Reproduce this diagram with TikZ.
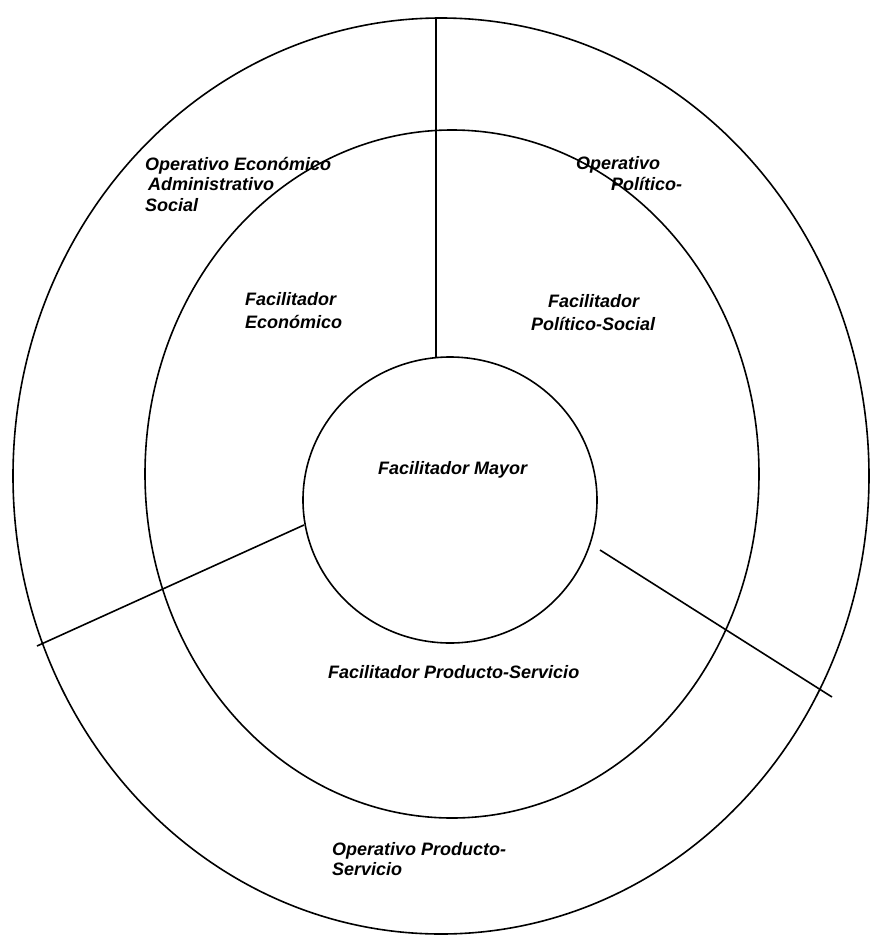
\documentclass[tikz,border=0pt]{standalone}
\usepackage{fontspec}
\setmainfont{Liberation Sans}
\tikzset{
  etiqueta/.style={anchor=base west, inner sep=0pt, font=\fontsize{18}{21}\selectfont\bfseries\itshape},
  borde/.style={line width=1.6pt, black},
}
\begin{document}
\begin{tikzpicture}[x=1pt, y=-1pt]
        \useasboundingbox (0,0) rectangle (870,937);

        % Anillo exterior (operativo)
        \draw[borde] (441,476) ellipse [x radius=428, y radius=458];

        % Anillo medio (facilitador)
        \draw[borde] (452,474) ellipse [x radius=307, y radius=344];

        % Circulo central
        \draw[borde] (450,500) ellipse [x radius=147, y radius=143];

        % Divisiones entre sectores
        \draw[borde] (436,18) -- (436,357);
        \draw[borde] (37,646) -- (304,525);
        \draw[borde] (600,550) -- (832,697);

        % Sector economico
        \node[etiqueta] (opEco1) at (145,170) {Operativo Económico};
        \node[etiqueta] (opEco2) at (148,190) {Administrativo};
        \node[etiqueta] (opEco3) at (145,211) {Social};
        \node[etiqueta] (facEco1) at (245,305) {Facilitador};
        \node[etiqueta] (facEco2) at (245,328) {Económico};

        % Sector politico-social
        \node[etiqueta] (opPol1) at (576,169) {Operativo};
        \node[etiqueta] (opPol2) at (611,190) {Político-};
        \node[etiqueta] (facPol1) at (548,307) {Facilitador};
        \node[etiqueta] (facPol2) at (531,330) {Político-Social};

        % Centro
        \node[etiqueta] (mayor) at (378,474) {Facilitador Mayor};

        % Sector producto-servicio
        \node[etiqueta] (facProd) at (328,678) {Facilitador Producto-Servicio};
        \node[etiqueta] (opProd1) at (332,855) {Operativo Producto-};
        \node[etiqueta] (opProd2) at (332,875) {Servicio};

\end{tikzpicture}
\end{document}
